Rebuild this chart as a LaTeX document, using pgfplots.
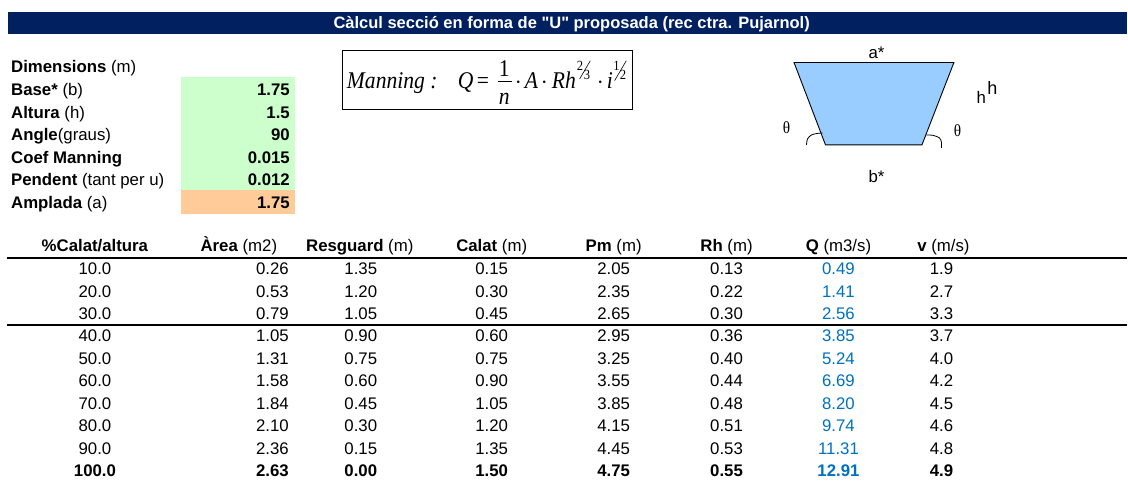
\documentclass[border=0pt]{standalone}
\usepackage{pgfplots}
\usepackage{pgfplotstable}
\usepackage{fontspec}
\pgfplotsset{compat=1.18}
\setmainfont{Liberation Sans}[Ligatures=TeXOff]
\newfontfamily\serif{Liberation Serif}[FakeStretch=0.9]
\definecolor{barblue}{HTML}{002060}
\definecolor{cellgreen}{HTML}{CCFFCC}
\definecolor{cellorange}{HTML}{FFCC99}
\definecolor{qblue}{HTML}{0070C0}
\definecolor{water}{HTML}{99CCFF}
\newcommand{\fs}{\fontsize{16.8}{20}\selectfont}
\pgfplotstableread{
y pc area res cal pm rh q v
275 10.0 0.26 1.35 0.15 2.05 0.13 0.49 1.9
297.5 20.0 0.53 1.20 0.30 2.35 0.22 1.41 2.7
319.5 30.0 0.79 1.05 0.45 2.65 0.30 2.56 3.3
342 40.0 1.05 0.90 0.60 2.95 0.36 3.85 3.7
364.5 50.0 1.31 0.75 0.75 3.25 0.40 5.24 4.0
387 60.0 1.58 0.60 0.90 3.55 0.44 6.69 4.2
409.5 70.0 1.84 0.45 1.05 3.85 0.48 8.20 4.5
432 80.0 2.10 0.30 1.20 4.15 0.51 9.74 4.6
454.5 90.0 2.36 0.15 1.35 4.45 0.53 11.31 4.8
}\rows
\pgfplotstableread{
y pc area res cal pm rh q v
477 100.0 2.63 0.00 1.50 4.75 0.55 12.91 4.9
}\lastrow
\pgfplotstableread{
y val
96 1.75
118.5 1.5
141 90
163.5 0.015
186 0.012
}\inputs
\pgfplotstableread{
y val
208.5 1.75
}\inputb
\newcommand{\col}[6]{% table, column, x, anchor, colour, font
  \addplot[draw=none, mark=none, point meta=explicit symbolic, nodes near coords,
    nodes near coords style={anchor=#4, inner sep=0pt, outer sep=0pt, text=#5, font=\fs#6}]
    table[x expr=#3, y=y, meta=#2] {#1};
}
\newcommand{\lab}[3]{\node[anchor=base west, inner sep=0pt, font=\fs] at (axis cs:#1,#2) {#3};}
\newcommand{\hd}[3]{\node[anchor=base, inner sep=0pt, font=\fs] at (axis cs:#1,#2) {#3};}
\newcommand{\fm}[4]{\node[anchor=base west, inner sep=0pt, font=\fontsize{#4}{#4}\selectfont\serif] at (axis cs:#1,#2) {#3};}
\begin{document}
\begin{tikzpicture}
\begin{axis}[
  scale only axis, width=1128pt, height=481pt,
  xmin=0, xmax=1128, ymin=0, ymax=481, y dir=reverse,
  hide axis, clip=false]
\path (axis cs:0,0) rectangle (axis cs:1128,481);
% title bar and coloured cells
\addplot[fill=barblue, draw=none] coordinates {(8,12) (1128,12) (1128,34) (8,34)} -- cycle;
\addplot[fill=cellgreen, draw=none] coordinates {(181,77) (295,77) (295,190) (181,190)} -- cycle;
\addplot[fill=cellorange, draw=none] coordinates {(181,190) (295,190) (295,214) (181,214)} -- cycle;
\node[anchor=base, inner sep=0pt, text=white, font=\fontsize{16.5}{20}\selectfont\bfseries] at (axis cs:572,29) {Càlcul secció en forma de "U" proposada (rec ctra. Pujarnol)};
% inputs
\lab{11}{72.5}{\textbf{Dimensions} (m)}
\lab{11}{96}{\textbf{Base*} (b)}
\lab{11}{118.5}{\textbf{Altura} (h)}
\lab{11}{141}{\textbf{Angle}(graus)}
\lab{11}{163.5}{\textbf{Coef Manning}}
\lab{11}{186}{\textbf{Pendent} (tant per u)}
\lab{11}{208.5}{\textbf{Amplada} (a)}
\col{\inputs}{val}{290}{base east}{black}{\bfseries}
\col{\inputb}{val}{290}{base east}{black}{\bfseries}
% formula
\addplot[draw=black, line width=1pt, fill=none] coordinates {(343,51) (633,51) (633,110) (343,110)} -- cycle;
\fm{347}{89}{\itshape Manning :}{24}
\fm{458}{89}{\itshape Q}{24}
\fm{477}{89}{=}{24}
\fm{499}{77}{1}{24}
\addplot[black, line width=0.7pt] coordinates {(498,81.5) (512,81.5)};
\fm{499}{105}{\itshape n}{24}
\fm{515}{89}{$\cdot$}{24}
\fm{525}{89}{\itshape A}{24}
\fm{541}{89}{$\cdot$}{24}
\fm{552}{89}{\itshape Rh}{24}
\fm{577}{70.5}{2}{14}
\addplot[black, line width=0.6pt] coordinates {(580,79) (590.7,60.7)};
\fm{584}{80}{3}{14}
\fm{597}{89}{$\cdot$}{24}
\fm{607}{89}{\itshape i}{24}
\fm{613.5}{70.5}{1}{14}
\addplot[black, line width=0.6pt] coordinates {(615,80.7) (626.7,60.7)};
\fm{620}{80}{2}{14}
% section sketch
\addplot[fill=water, draw=black, line width=0.9pt] coordinates {(794.5,62.5) (954.5,62.5) (922.5,145) (826,145)} -- cycle;
\addplot[black, line width=0.8pt, smooth] coordinates {(807,145) (808,139) (812,135) (818,133.5) (823,133)};
\addplot[black, line width=0.8pt, smooth] coordinates {(927,135) (934,135.5) (940,138) (942,142) (942,148)};
\hd{877}{59}{a*}
\hd{877}{183}{b*}
\hd{982}{104}{h}
\node[anchor=base, inner sep=0pt, font=\fontsize{18}{18}\selectfont] at (axis cs:993,95) {h};
\node[anchor=base, inner sep=0pt, font=\fontsize{17}{17}\selectfont\serif] at (axis cs:787,134) {θ};
\node[anchor=base, inner sep=0pt, font=\fontsize{17}{17}\selectfont\serif] at (axis cs:958,136.5) {θ};
% table headers
\hd{95}{251.5}{\textbf{\%Calat/altura}}
\hd{239}{251.5}{\textbf{Àrea} (m2)}
\hd{360}{251.5}{\textbf{Resguard} (m)}
\hd{492}{251.5}{\textbf{Calat} (m)}
\hd{614}{251.5}{\textbf{Pm} (m)}
\hd{727}{251.5}{\textbf{Rh} (m)}
\hd{839}{251.5}{\textbf{Q} (m3/s)}
\hd{944}{251.5}{\textbf{v} (m/s)}
% rules
\addplot[black, line width=1.4pt] coordinates {(7,258) (1128,258)};
\addplot[black, line width=1.4pt] coordinates {(7,325) (1128,325)};
% table body
\col{\rows}{pc}{95}{base}{black}{}
\col{\rows}{area}{289}{base east}{black}{}
\col{\rows}{res}{361}{base}{black}{}
\col{\rows}{cal}{492}{base}{black}{}
\col{\rows}{pm}{614}{base}{black}{}
\col{\rows}{rh}{727}{base}{black}{}
\col{\rows}{q}{839}{base}{qblue}{}
\col{\rows}{v}{942}{base}{black}{}
\col{\lastrow}{pc}{95}{base}{black}{\bfseries}
\col{\lastrow}{area}{289}{base east}{black}{\bfseries}
\col{\lastrow}{res}{361}{base}{black}{\bfseries}
\col{\lastrow}{cal}{492}{base}{black}{\bfseries}
\col{\lastrow}{pm}{614}{base}{black}{\bfseries}
\col{\lastrow}{rh}{727}{base}{black}{\bfseries}
\col{\lastrow}{q}{839}{base}{qblue}{\bfseries}
\col{\lastrow}{v}{942}{base}{black}{\bfseries}
\end{axis}
\end{tikzpicture}
\end{document}
